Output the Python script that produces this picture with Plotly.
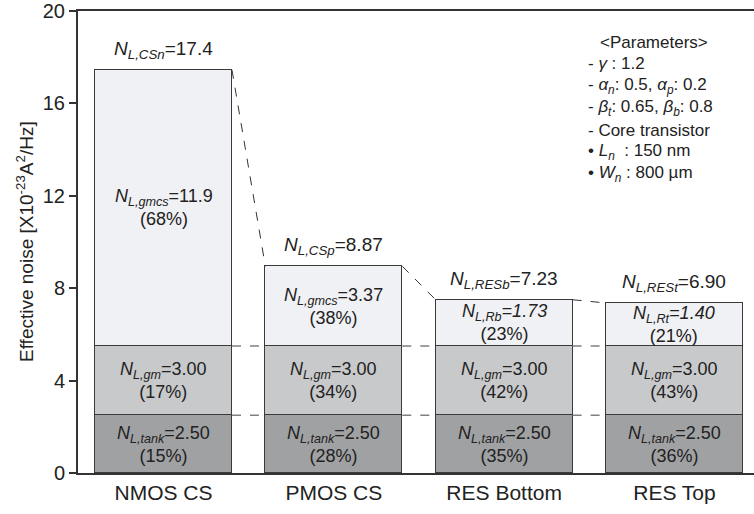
import plotly.graph_objects as go

categories = ["NMOS CS", "PMOS CS", "RES Bottom", "RES Top"]
# drawn segment heights
tank = [2.5, 2.5, 2.5, 2.5]
gm = [3.0, 3.0, 3.0, 3.0]
top = [11.95, 3.45, 2.0, 1.86]

# label texts
total_names = ["CSn", "CSp", "RESb", "RESt"]
total_vals = ["17.4", "8.87", "7.23", "6.90"]
top_names = ["gmcs", "gmcs", "Rb", "Rt"]
top_vals = ["11.9", "3.37", "1.73", "1.40"]
top_pct = ["68%", "38%", "23%", "21%"]
gm_vals = ["3.00", "3.00", "3.00", "3.00"]
gm_pct = ["17%", "34%", "42%", "43%"]
tank_vals = ["2.50", "2.50", "2.50", "2.50"]
tank_pct = ["15%", "28%", "35%", "36%"]

y_ticks = [0, 4, 8, 12, 16, 20]

FONT = "Liberation Sans, Arial, sans-serif"
BW = 0.804
xs = list(range(len(categories)))

fig = go.Figure()
for vals, col in [(tank, "#a0a1a3"), (gm, "#c8c9cb"), (top, "#f0f1f4")]:
    fig.add_trace(go.Bar(
        x=xs, y=vals, width=BW,
        marker=dict(color=col, line=dict(color="#3a3a3a", width=1)),
        showlegend=False, hoverinfo="skip",
    ))

totals = [a + b + c for a, b, c in zip(tank, gm, top)]
ann = []
for i in xs:
    ann.append(dict(x=i, y=totals[i], xref="x", yref="y", yanchor="bottom", yshift=6,
                    text=f"<i>N<sub>L,{total_names[i]}</sub></i>={total_vals[i]}",
                    showarrow=False, font=dict(size=19)))
    it = i >= 2
    v = f"<i>={top_vals[i]}</i>" if it else f"={top_vals[i]}"
    ann.append(dict(x=i, y=tank[i] + gm[i] + top[i] / 2, xref="x", yref="y",
                    text=f"<i>N<sub>L,{top_names[i]}</sub></i>{v}<br>({top_pct[i]})",
                    showarrow=False, font=dict(size=18)))
    ann.append(dict(x=i, y=tank[i] + gm[i] / 2, xref="x", yref="y",
                    text=f"<i>N<sub>L,gm</sub></i>={gm_vals[i]}<br>({gm_pct[i]})",
                    showarrow=False, font=dict(size=18)))
    ann.append(dict(x=i, y=tank[i] / 2, xref="x", yref="y",
                    text=f"<i>N<sub>L,tank</sub></i>={tank_vals[i]}<br>({tank_pct[i]})",
                    showarrow=False, font=dict(size=18)))

shapes = []
for i in xs[:-1]:
    x0 = i + BW / 2
    x1 = i + 1 - BW / 2
    for yv in (tank[i], tank[i] + gm[i]):
        shapes.append(dict(type="line", xref="x", yref="y", x0=x0, x1=x1, y0=yv, y1=yv,
                           line=dict(color="#808080", width=1.5, dash="dash")))
    shapes.append(dict(type="line", xref="x", yref="y", x0=x0, x1=x1, y0=totals[i], y1=totals[i + 1],
                       line=dict(color="#333333", width=1, dash="dash")))

ann.append(dict(x=0, y=0.5, xref="paper", yref="paper", xanchor="center", yanchor="middle",
                xshift=-53, textangle=-90, showarrow=False,
                text="Effective noise [X10<sup>-23</sup>A<sup>2</sup>/Hz]", font=dict(size=19)))


def px(x):
    return (x - 78) / 676


def py(y):
    return (473 - y) / 462


params = [
    ("&lt;Parameters&gt;", 598, 42),
    ("- <i>γ</i> : 1.2", 586, 64),
    ("- <i>α<sub>n</sub></i>: 0.5, <i>α<sub>p</sub></i>: 0.2", 586, 86),
    ("- <i>β<sub>t</sub></i>: 0.65, <i>β<sub>b</sub></i>: 0.8", 586, 108),
    ("- Core transistor", 586, 130),
    ("• <i>L<sub>n</sub></i>  : 150 nm", 586, 152),
    ("• <i>W<sub>n</sub></i> : 800 µm", 586, 174),
]
for t, x, y in params:
    ann.append(dict(x=px(x), y=py(y), xref="paper", yref="paper", xanchor="left", yanchor="middle",
                    text=t, showarrow=False, font=dict(size=17)))

fig.update_layout(
    width=754, height=514,
    margin=dict(l=78, r=0, t=11, b=41),
    barmode="stack", bargap=0,
    plot_bgcolor="white", paper_bgcolor="white",
    font=dict(family=FONT, color="#222222"),
    annotations=ann, shapes=shapes,
    xaxis=dict(range=[-0.502, 3.467], tickvals=xs, ticktext=categories, showgrid=False,
               showline=True, linecolor="#333333", linewidth=2, mirror=True, ticks="",
               tickfont=dict(size=21), zeroline=False, fixedrange=True),
    yaxis=dict(range=[0, 20], tickvals=y_ticks, showgrid=False, showline=True,
               linecolor="#333333", linewidth=2, ticks="outside", ticklen=7, tickwidth=2,
               tickcolor="#333333", tickfont=dict(size=20), zeroline=False),
)

fig.write_html("out.html")
